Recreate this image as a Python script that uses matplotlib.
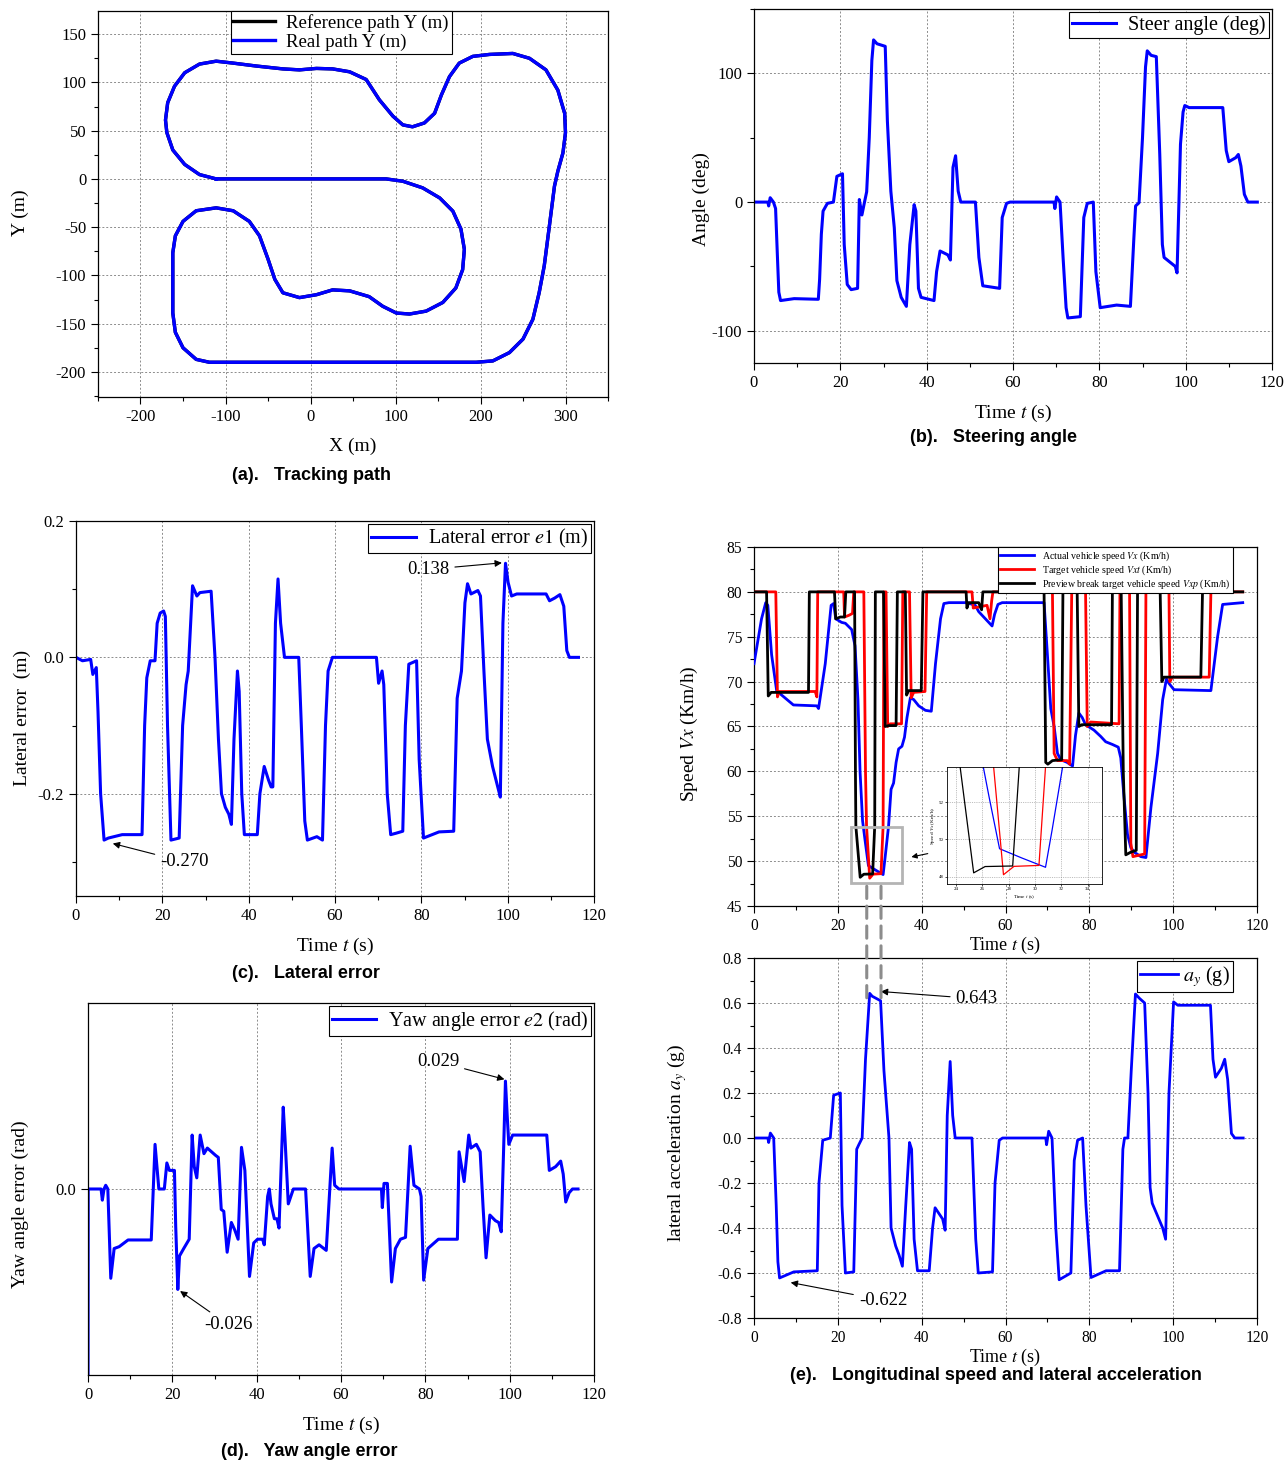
import numpy as np
import matplotlib
matplotlib.use('Agg')
import matplotlib.pyplot as plt
from matplotlib.ticker import MultipleLocator, FormatStrFormatter
from matplotlib.patches import Rectangle, ConnectionPatch

plt.rcParams['font.family'] = ['Liberation Serif', 'DejaVu Serif']
plt.rcParams['mathtext.fontset'] = 'stix'
plt.rcParams['axes.unicode_minus'] = False
plt.rcParams['lines.solid_joinstyle'] = 'round'

# ---------------- data ----------------
# (a) path, x / y in m
path_x = [-111, 0, 69, 89, 108.6, 132, 152, 167.5, 177, 181, 179, 171, 155.7, 136, 116.5, 101, 85, 69,
          46, 26, 7, -13, -32.5, -42, -50, -60, -72, -91, -111, -134.5, -150, -159, -162, -162, -159,
          -150, -134.5, -119, 0, 195, 214.5, 234, 250, 261.6, 269, 275, 281, 287, 291, 297, 300, 299,
          291, 277, 257.6, 238, 210.6, 191, 175, 163.5, 154, 146, 134, 120, 108.6, 97, 81, 65.5, 46, 26,
          7, -13, -32.5, -64, -91, -111, -130.6, -148, -160, -168, -170.6, -169, -162, -148, -130.6, -111]
path_y = [0, 0, 0, 0, -2.4, -9.3, -19.7, -33.4, -52, -73, -94, -113, -128, -137, -140, -139, -132, -122,
          -116, -115, -120, -123, -118, -104, -83, -59, -44, -33, -30, -33, -44, -59, -76.5, -139, -159,
          -175, -187, -190, -190, -190, -188.6, -180, -166, -145.5, -118, -90, -49, -7.6, 8, 27, 48, 68,
          92, 113, 125, 130, 129, 127, 120, 106, 87, 68, 58, 54, 56, 65, 82, 103, 111, 114,
          114.5, 113, 114, 117, 120, 122, 119, 110, 96, 79, 61, 48, 30, 15, 4.5, 0]

# (b) steering angle (deg)
steer_t = [0, 3.2, 3.4, 3.75, 4.5, 5.0, 5.4, 5.75, 6.15, 9.3, 14.9, 15.2, 15.6, 16.0, 17.0, 18.4, 19.2, 20.5,
           20.9, 21.6, 22.5, 24.0, 24.4, 25.0, 25.6, 26.1, 26.7, 27.3, 27.7, 28.5, 30.4, 30.9, 31.7, 32.5,
           33.1, 34.1, 35.3, 36.1, 37.1, 37.5, 38.1, 38.7, 41.7, 42.3, 43.1, 44.9, 45.5, 46.1, 46.7, 47.3,
           47.9, 51.3, 52.1, 53.0, 56.9, 57.5, 58.5, 59.3, 69.5, 69.7, 70.1, 70.9, 71.6, 72.3, 72.7, 75.6,
           76.4, 77.2, 78.6, 79.2, 80.2, 84.0, 87.2, 88.0, 88.4, 89.2, 90.0, 90.7, 91.1, 92.0, 93.2, 94.0,
           94.6, 95.0, 97.6, 98.0, 98.8, 99.4, 99.8, 100.8, 108.6, 109.4, 110.0, 111.6, 112.2, 112.8,
           113.6, 114.4, 116.6]
steer_v = [0, 0, -3, 3.4, 0, -5, -40, -70, -76.5, -75, -75.5, -60, -25, -7, -1, 0, 20, 22,
           -33, -64, -68, -67, 2, -10, 0, 8, 50, 110, 126, 123, 121, 63, 8.5, -20,
           -61, -74, -81, -33, -2, -7, -67, -74, -76.5, -54, -38, -41, -45, 27, 36, 8.5,
           0, 0, -43, -65, -67, -12, -1, 0, 0, -5, 4, 0, -43, -82, -90, -89,
           -12, -1, 0, -54, -82, -80, -81, -28, -3, -0.5, 50, 105, 117.5, 114, 113, 37,
           -33, -43, -50, -55, 45, 70, 75, 73.4, 73.4, 40, 31.4, 34.5, 37, 28,
           6, 0, 0]

# (c) lateral error e1 (m)
e1_t = [0, 1.5, 3.4, 3.9, 4.7, 5.1, 5.7, 6.5, 7.5, 10.7, 15.3, 15.9, 16.4, 17.2, 18.3, 18.8, 19.5, 20.3,
        20.7, 21.2, 22.0, 23.9, 24.7, 25.5, 26.0, 27.0, 28.0, 28.7, 31.3, 32.2, 33.0, 33.7, 34.6, 35.4,
        36.0, 36.6, 37.4, 37.8, 38.4, 39.0, 42.0, 42.6, 43.6, 44.6, 45.2, 45.6, 46.2, 46.8, 47.4, 48.3,
        51.6, 52.2, 53.0, 53.6, 55.8, 57.1, 57.8, 58.4, 59.4, 69.6, 70.1, 70.9, 71.3, 72.1, 72.9, 74.1,
        75.7, 76.3, 77.1, 78.9, 79.5, 80.5, 84.1, 87.5, 88.3, 89.3, 90.1, 90.7, 91.5, 93.1, 93.7, 94.5,
        95.3, 96.5, 97.7, 98.3, 98.9, 99.5, 100.1, 100.9, 102.1, 108.9, 109.7, 110.9, 112.1, 113.0,
        113.7, 114.3, 116.4]
e1_v = [0, -0.005, -0.003, -0.025, -0.015, -0.08, -0.2, -0.268, -0.265, -0.26, -0.26, -0.1, -0.03,
        -0.005, -0.005, 0.05, 0.065, 0.068, 0.06, -0.1, -0.268, -0.265, -0.1, -0.04, -0.02, 0.105,
        0.09, 0.095, 0.097, 0.0, -0.12, -0.2, -0.22, -0.23, -0.245, -0.12, -0.02, -0.05, -0.2, -0.26,
        -0.26, -0.2, -0.16, -0.18, -0.19, -0.19, 0.05, 0.115, 0.05, 0.0, 0.0, -0.1, -0.24, -0.268,
        -0.263, -0.268, -0.1, -0.02, 0.0, 0.0, -0.038, -0.02, -0.04, -0.2, -0.26, -0.258, -0.255,
        -0.1, -0.01, -0.005, -0.15, -0.265, -0.256, -0.255, -0.06, -0.02, 0.08, 0.108, 0.093, 0.098,
        0.09, -0.02, -0.12, -0.16, -0.19, -0.205, 0.05, 0.138, 0.11, 0.09, 0.093, 0.093, 0.083,
        0.087, 0.092, 0.075, 0.01, 0.0, 0.0]

# (d) yaw angle error e2 (rad)
e2_t = [0, 0.05, 2.1, 3.1, 3.4, 3.8, 4.2, 4.7, 5.4, 6.2, 7.4, 9.5, 15.0, 15.9, 16.8, 18.1, 18.7, 19.3,
        20.5, 20.8, 21.3, 21.7, 22.7, 24.0, 24.7, 25.2, 25.8, 26.6, 27.5, 28.3, 30.3, 30.9, 31.6, 32.2,
        33.0, 34.0, 34.8, 35.6, 36.4, 37.2, 38.3, 39.3, 40.2, 41.4, 41.8, 42.6, 43.0, 43.4, 44.2, 44.8,
        45.3, 46.3, 46.7, 47.5, 48.7, 51.6, 52.7, 53.6, 54.8, 56.5, 57.9, 58.5, 59.5, 69.6, 69.8, 70.2,
        71.0, 72.0, 72.9, 74.1, 75.3, 76.4, 77.3, 78.6, 79.0, 79.6, 80.6, 83.1, 87.6, 88.0, 89.2, 90.3,
        90.8, 92.1, 93.0, 93.7, 94.4, 95.3, 96.6, 97.4, 98.0, 98.6, 99.0, 99.4, 99.8, 100.7, 108.8,
        109.4, 110.9, 112.1, 112.7, 113.3, 114.1, 114.9, 116.2]
e2_v = [-0.06, 0.0, 0.0, 0.0, -0.003, 0.0, 0.001, 0.0, -0.024, -0.016, -0.0155, -0.0137, -0.0137,
        0.012, 0.0, 0.0, 0.007, 0.005, 0.005, -0.01, -0.027, -0.018, -0.016, -0.0135, 0.0145, 0.006,
        0.003, 0.0145, 0.0095, 0.011, 0.009, 0.0085, -0.0055, -0.006, -0.017, -0.009, -0.011, -0.0135,
        0.0112, 0.005, -0.0235, -0.0145, -0.0135, -0.0135, -0.015, -0.002, 0.0, -0.004, -0.008, -0.008,
        -0.0105, 0.022, 0.014, -0.004, 0.0, 0.0, -0.0235, -0.016, -0.015, -0.0165, 0.011, 0.001, 0.0,
        0.0, -0.005, 0.0015, 0.0015, -0.025, -0.016, -0.0135, -0.013, 0.0115, 0.001, 0.0, -0.002,
        -0.0245, -0.016, -0.0135, -0.0135, 0.01, 0.002, 0.0145, 0.011, 0.012, 0.01, -0.005, -0.0185,
        -0.007, -0.0085, -0.009, -0.0115, 0.012, 0.029, 0.02, 0.012, 0.0145, 0.0145, 0.005, 0.006,
        0.0075, 0.004, -0.0035, -0.001, 0.0, 0.0]

# (e) speeds (km/h)
vx_t = [0, 1.8, 2.8, 3.3, 4.2, 5.4, 6.6, 9.4, 15.0, 15.4, 17.0, 18.4, 19.0, 19.5, 20.9, 21.8, 23.3,
        24.1, 24.8, 25.3, 25.9, 26.5, 27.3, 29.0, 30.8, 31.3, 32.1, 32.7, 33.3, 33.9, 34.5, 35.3, 35.9,
        36.5, 37.3, 38.1, 39.3, 40.9, 42.3, 43.3, 44.5, 45.3, 46.5, 50.8, 52.8, 53.6, 55.2, 56.8, 57.4,
        58.2, 59.2, 69.2, 70.0, 70.8, 71.6, 72.4, 73.2, 74.7, 76.0, 76.7, 77.5, 78.3, 79.1, 81.1, 82.7,
        83.9, 85.5, 86.9, 87.5, 88.3, 89.1, 89.9, 90.7, 92.3, 93.5, 94.7, 96.3, 97.5, 98.4, 99.0,
        100.2, 109.0, 109.4, 110.6, 111.8, 116.6]
vx_v = [72.0, 77.0, 78.8, 78.5, 73.0, 69.0, 68.5, 67.4, 67.3, 67.0, 72.0, 78.5, 78.7, 77.0, 76.6, 76.5,
        75.8, 74.0, 68.0, 60.0, 54.5, 52.3, 49.5, 49.0, 48.5, 50.5, 53.9, 58.0, 58.7, 61.0, 62.5, 62.8,
        63.8, 66.0, 68.2, 68.0, 67.3, 66.8, 66.7, 72.0, 77.0, 78.7, 78.8, 78.8, 78.5, 77.8, 77.0, 76.2,
        77.5, 78.6, 78.8, 78.8, 73.0, 67.0, 65.0, 62.0, 61.3, 61.0, 60.6, 64.0, 66.5, 66.0, 65.2, 64.6,
        63.9, 63.3, 63.0, 62.7, 61.5, 57.0, 53.0, 51.5, 51.0, 50.5, 50.4, 56.0, 62.0, 68.0, 70.3, 69.8,
        69.1, 69.0, 70.5, 75.0, 78.6, 78.8]

vxt_t = [0, 5.2, 5.6, 6.0, 14.6, 15.0, 15.2, 21.4, 21.6, 22.7, 23.5, 23.8, 26.2, 26.6, 26.85, 27.6,
         28.4, 30.3, 30.8, 31.0, 31.5, 31.9, 32.5, 35.2, 35.5, 37.1, 37.5, 38.1, 40.8, 41.2, 52.0, 52.3,
         55.6, 56.3, 56.7, 57.0, 71.2, 71.6, 72.4, 74.7, 75.3, 75.8, 79.1, 79.5, 80.3, 87.1, 87.3, 89.6,
         89.9, 90.4, 93.2, 93.5, 99.0, 99.2, 99.8, 108.6, 109.0, 116.6]
vxt_v = [80, 80, 68.3, 68.9, 68.9, 68.3, 80, 80, 77.2, 77.4, 77.6, 80, 80, 60, 53.9, 48.1,
         48.55, 48.6, 53.9, 80, 80, 65.0, 65.3, 65.3, 80, 80, 68.2, 68.8, 68.9, 80, 80, 78.2,
         78.5, 77.0, 79.0, 80, 80, 62.0, 61.2, 61.2, 60.8, 80, 80, 65.0, 65.5, 65.3, 80, 80,
         52.0, 50.5, 50.8, 80, 80, 70.0, 70.5, 70.5, 80, 80]

vxp_t = [0, 3.0, 3.4, 4.1, 13.0, 13.2, 19.2, 19.5, 20.6, 21.6, 21.9, 24.0, 24.2, 24.3, 25.33, 26.2,
         28.3, 28.8, 28.95, 30.9, 31.3, 32.1, 33.9, 34.2, 36.1, 36.4, 36.9, 39.9, 40.3, 50.6, 50.8,
         51.2, 53.6, 54.3, 54.6, 69.2, 69.6, 70.1, 71.2, 73.4, 73.7, 77.1, 77.5, 78.2, 85.3, 85.5, 87.6,
         88.1, 88.7, 89.9, 91.2, 91.5, 96.9, 97.3, 97.8, 106.6, 107.0, 116.6]
vxp_v = [80, 80, 68.4, 68.8, 68.8, 80, 80, 77.0, 77.2, 77.2, 80, 80, 60, 53.9, 48.2, 48.54,
         48.57, 53.9, 80, 80, 65.0, 65.1, 65.1, 80, 80, 68.5, 69.0, 69.0, 80, 80, 78.2,
         78.8, 78.8, 78.0, 80, 80, 61.0, 60.8, 61.2, 61.3, 80, 80, 65.0, 65.2, 65.2, 80, 80,
         60, 50.7, 51.0, 51.2, 80, 80, 70.0, 70.5, 70.5, 80, 80]

# lateral acceleration (g)
ay_t = [0, 3.3, 3.5, 3.9, 4.7, 5.3, 5.7, 6.1, 9.5, 15.1, 15.5, 16.4, 18.2, 19.0, 20.6, 21.0, 21.8, 23.8,
        24.5, 25.0, 25.8, 26.6, 27.6, 28.2, 30.2, 31.0, 32.2, 32.7, 33.8, 34.6, 35.4, 36.2, 37.1, 37.6,
        38.2, 39.0, 41.8, 42.6, 43.2, 45.0, 45.6, 46.1, 46.8, 47.4, 48.0, 52.0, 52.9, 53.5, 56.9, 57.5,
        58.5, 59.3, 69.6, 69.8, 70.3, 71.1, 72.0, 72.8, 75.6, 76.4, 77.2, 78.4, 79.2, 80.4, 84.0, 87.2,
        88.0, 88.4, 89.2, 90.0, 91.0, 92.0, 93.2, 94.0, 94.5, 95.0, 97.5, 98.2, 99.0, 100.1, 101.1,
        108.9, 109.5, 110.1, 111.5, 112.3, 113.0, 113.9, 114.7, 116.7]
ay_v = [0, 0, -0.02, 0.022, 0, -0.3, -0.55, -0.622, -0.595, -0.59, -0.2, -0.01, 0.0, 0.19, 0.2, -0.3,
        -0.6, -0.595, -0.05, -0.03, 0.0, 0.35, 0.643, 0.63, 0.61, 0.3, 0.0, -0.4, -0.48, -0.52, -0.57,
        -0.3, -0.02, -0.05, -0.45, -0.59, -0.59, -0.4, -0.31, -0.36, -0.41, 0.1, 0.34, 0.1, 0.0, 0.0,
        -0.45, -0.6, -0.595, -0.2, -0.01, 0.0, 0.0, -0.03, 0.03, 0.0, -0.4, -0.63, -0.6, -0.1, -0.01,
        0.0, -0.3, -0.62, -0.59, -0.59, -0.05, 0.0, 0.0, 0.3, 0.64, 0.62, 0.6, 0.2, -0.22, -0.29, -0.4,
        -0.45, 0.2, 0.605, 0.59, 0.59, 0.35, 0.27, 0.31, 0.35, 0.26, 0.02, 0.0, 0.0]

W, H = 1285, 1462
BLUE = '#0000ff'
LAB = 14


def box(l, t, r, b):
    return [l / W, 1 - b / H, (r - l) / W, (b - t) / H]


def style(ax, fs=12):
    ax.tick_params(which='both', direction='out', top=False, right=False, labelsize=fs)
    ax.tick_params(which='major', length=5, width=0.8)
    ax.tick_params(which='minor', length=3, width=0.8)
    ax.grid(True, which='major', linestyle=(0, (2, 2)), color='#8c8c8c', linewidth=0.7)
    for s in ax.spines.values():
        s.set_linewidth(0.9)


def legend(ax, fs=14.5, pad=0.15, hl=2.2, htp=0.6, **kw):
    lg = ax.legend(fontsize=fs, fancybox=False, framealpha=1, edgecolor='black',
                   borderaxespad=pad, handlelength=hl, borderpad=0.15, labelspacing=0.1,
                   handletextpad=htp, **kw)
    lg.get_frame().set_linewidth(0.8)
    return lg


fig = plt.figure(figsize=(W / 100, H / 100), dpi=100)

# ---------- (a) ----------
ax = fig.add_axes(box(98, 11, 608, 397))
ax.plot(path_x, path_y, color='black', lw=2.4, label='Reference path Y (m)')
ax.plot(path_x, path_y, color=BLUE, lw=2.4, label='Real path Y (m)')
ax.set_xlim(-250, 350)
ax.set_ylim(-226, 174)
ax.xaxis.set_major_locator(MultipleLocator(100))
ax.xaxis.set_minor_locator(MultipleLocator(50))
ax.set_yticks(np.arange(-200, 151, 50))
ax.yaxis.set_minor_locator(MultipleLocator(25))
style(ax)
ax.set_xlabel('X (m)', fontsize=LAB, labelpad=9)
ax.set_ylabel('Y (m)', fontsize=LAB)
ax.yaxis.set_label_coords((29 - 98) / 510, 0.477)
legend(ax, fs=13.6, pad=0.0, loc='upper left', bbox_to_anchor=(0.26, 1.0))

# ---------- (b) ----------
ax = fig.add_axes(box(754, 9, 1272, 363))
ax.plot(steer_t, steer_v, color=BLUE, lw=2.2, label='Steer angle (deg)')
ax.set_xlim(0, 120)
ax.set_ylim(-125, 150)
ax.xaxis.set_major_locator(MultipleLocator(20))
ax.xaxis.set_minor_locator(MultipleLocator(10))
ax.set_yticks([-100, 0, 100])
ax.yaxis.set_minor_locator(MultipleLocator(50))
style(ax)
ax.set_xlabel('Time $t$ (s)', fontsize=LAB, labelpad=9)
ax.set_ylabel('Angle (deg)', fontsize=LAB)
ax.yaxis.set_label_coords((710 - 754) / 518, 0.463)
legend(ax, loc='upper right')

# ---------- (c) ----------
ax = fig.add_axes(box(76, 521, 594, 896))
ax.plot(e1_t, e1_v, color=BLUE, lw=2.2, label='Lateral error $\\mathit{e1}$ (m)')
ax.set_xlim(0, 120)
ax.set_ylim(-0.35, 0.2)
ax.xaxis.set_major_locator(MultipleLocator(20))
ax.xaxis.set_minor_locator(MultipleLocator(10))
ax.set_yticks([-0.2, 0.0, 0.2])
ax.yaxis.set_minor_locator(MultipleLocator(0.1))
ax.yaxis.set_major_formatter(FormatStrFormatter('%.1f'))
style(ax)
ax.set_xlabel('Time $t$ (s)', fontsize=LAB, labelpad=9)
ax.set_ylabel('Lateral error  (m)', fontsize=LAB)
ax.yaxis.set_label_coords((31 - 76) / 518, 0.476)
legend(ax, loc='upper right')
ax.annotate('-0.270', xy=(7.9, -0.272), xytext=(19.5, -0.300), fontsize=13.5, va='center', ha='left',
            arrowprops=dict(arrowstyle='-|>', color='black', lw=0.8, mutation_scale=10))
ax.annotate('0.138', xy=(99.3, 0.139), xytext=(86.5, 0.129), fontsize=13.5, va='center', ha='right',
            arrowprops=dict(arrowstyle='-|>', color='black', lw=0.8, mutation_scale=10))

# ---------- (d) ----------
ax = fig.add_axes(box(88, 1003, 594, 1375))
ax.plot(e2_t, e2_v, color=BLUE, lw=2.2, label='Yaw angle error $\\mathit{e2}$ (rad)')
ax.set_xlim(0, 120)
ax.set_ylim(-0.05, 0.05)
ax.xaxis.set_major_locator(MultipleLocator(20))
ax.xaxis.set_minor_locator(MultipleLocator(10))
ax.set_yticks([0.0])
ax.yaxis.set_major_formatter(FormatStrFormatter('%.1f'))
style(ax)
ax.set_xlabel('Time $t$ (s)', fontsize=LAB, labelpad=9)
ax.set_ylabel('Yaw angle error (rad)', fontsize=LAB)
ax.yaxis.set_label_coords((29 - 88) / 506, 0.46)
legend(ax, loc='upper right')
ax.annotate('0.029', xy=(99.4, 0.0293), xytext=(88.0, 0.0342), fontsize=13.5, va='center', ha='right',
            arrowprops=dict(arrowstyle='-|>', color='black', lw=0.8, mutation_scale=10))
ax.annotate('-0.026', xy=(21.3, -0.027), xytext=(27.5, -0.0365), fontsize=13.5, va='center', ha='left',
            arrowprops=dict(arrowstyle='-|>', color='black', lw=0.8, mutation_scale=10))

# ---------- (e) speed ----------
axs = fig.add_axes(box(754, 547, 1257, 906))
axs.plot(vx_t, vx_v, color=BLUE, lw=2.0, label='Actual vehicle speed $Vx$ (Km/h)', zorder=3)
axs.plot(vxt_t, vxt_v, color='red', lw=2.0, label='Target vehicle speed $Vxt$ (Km/h)', zorder=4)
axs.plot(vxp_t, vxp_v, color='black', lw=2.0, label='Preview break target vehicle speed $Vxp$ (Km/h)',
         zorder=5)
axs.set_xlim(0, 120)
axs.set_ylim(45, 85)
axs.xaxis.set_major_locator(MultipleLocator(20))
axs.xaxis.set_minor_locator(MultipleLocator(10))
axs.yaxis.set_major_locator(MultipleLocator(5))
axs.yaxis.set_minor_locator(MultipleLocator(2.5))
style(axs, fs=11.2)
axs.set_xlabel('Time $t$ (s)', fontsize=13, labelpad=1)
axs.set_ylabel('Speed $Vx$ (Km/h)', fontsize=LAB)
axs.yaxis.set_label_coords((700 - 754) / 503, 0.48)
lg = axs.legend(fontsize=7.1, fancybox=False, framealpha=1, edgecolor='black', loc='upper right',
                bbox_to_anchor=(0.952, 1.0), borderaxespad=0.0, handlelength=3.4, labelspacing=0.05,
                borderpad=0.25)
lg.get_frame().set_linewidth(0.8)
axs.add_patch(Rectangle((23.2, 47.6), 12.0, 6.2, fill=False, edgecolor='#b4b4b4', lw=2, zorder=6))
axs.annotate('', xy=(36.9, 50.4), xytext=(42.1, 50.9),
             arrowprops=dict(arrowstyle='-|>', color='black', lw=0.8, mutation_scale=8))

# inset
axi = fig.add_axes(box(947, 767, 1102, 884))
axi.plot(vx_t, vx_v, color=BLUE, lw=0.9)
axi.plot(vxt_t, vxt_v, color='red', lw=0.9)
axi.plot(vxp_t, vxp_v, color='black', lw=0.9)
axi.set_xlim(23.3, 35.1)
axi.set_ylim(47.6, 53.9)
axi.set_xticks([24, 26, 28, 30, 32, 34])
axi.set_yticks([48, 50, 52])
axi.tick_params(which='both', direction='out', labelsize=3.5, length=1.5, width=0.5, pad=1)
axi.grid(True, linestyle=(0, (2, 2)), color='#8c8c8c', linewidth=0.4)
for s in axi.spines.values():
    s.set_linewidth(0.6)
axi.set_xlabel('Time $t$ (s)', fontsize=3.8, labelpad=1)
axi.set_ylabel('Speed $Vx$ (Km/h)', fontsize=3.8, labelpad=1)

# ---------- (e) lateral acceleration ----------
axa = fig.add_axes(box(754, 958, 1257, 1318))
axa.plot(ay_t, ay_v, color=BLUE, lw=2.0, label='$a_y$ (g)')
axa.set_xlim(0, 120)
axa.set_ylim(-0.8, 0.8)
axa.xaxis.set_major_locator(MultipleLocator(20))
axa.xaxis.set_minor_locator(MultipleLocator(10))
axa.yaxis.set_major_locator(MultipleLocator(0.2))
axa.yaxis.set_minor_locator(MultipleLocator(0.1))
axa.yaxis.set_major_formatter(FormatStrFormatter('%.1f'))
style(axa, fs=11.2)
axa.set_xlabel('Time $t$ (s)', fontsize=13, labelpad=1)
axa.set_ylabel('lateral acceleration $a_y$ (g)', fontsize=LAB)
axa.yaxis.set_label_coords((689 - 754) / 503, 0.486)
legend(axa, pad=0.15, hl=1.9, htp=0.25, loc='upper right', bbox_to_anchor=(0.958, 1.0))
axa.annotate('0.643', xy=(29.6, 0.652), xytext=(48.1, 0.619), fontsize=13.5, va='center', ha='left',
             arrowprops=dict(arrowstyle='-|>', color='black', lw=0.8, mutation_scale=10))
axa.annotate('-0.622', xy=(8.1, -0.64), xytext=(25.0, -0.721), fontsize=13.5, va='center', ha='left',
             arrowprops=dict(arrowstyle='-|>', color='black', lw=0.8, mutation_scale=10))

# dashed markers linking the two panels
for tm in [26.9, 30.3]:
    cp = ConnectionPatch(xyA=(tm, 47.2), coordsA=axs.transData, xyB=(tm, 0.6), coordsB=axa.transData,
                         color='#8c8c8c', lw=2.2, linestyle=(0, (4, 2.5)), zorder=10)
    fig.add_artist(cp)

# captions
cap = dict(fontsize=13, fontweight='bold', family=['Liberation Sans', 'DejaVu Sans'], ha='center',
           va='center')
fig.text(311 / W, 1 - 476 / H, '(a).   Tracking path', **cap)
fig.text(994 / W, 1 - 438 / H, '(b).   Steering angle', **cap)
fig.text(306 / W, 1 - 973 / H, '(c).   Lateral error', **cap)
fig.text(309 / W, 1 - 1451 / H, '(d).   Yaw angle error', **cap)
fig.text(996 / W, 1 - 1376 / H, '(e).   Longitudinal speed and lateral acceleration', **cap)

fig.savefig('out.png', dpi=100)
